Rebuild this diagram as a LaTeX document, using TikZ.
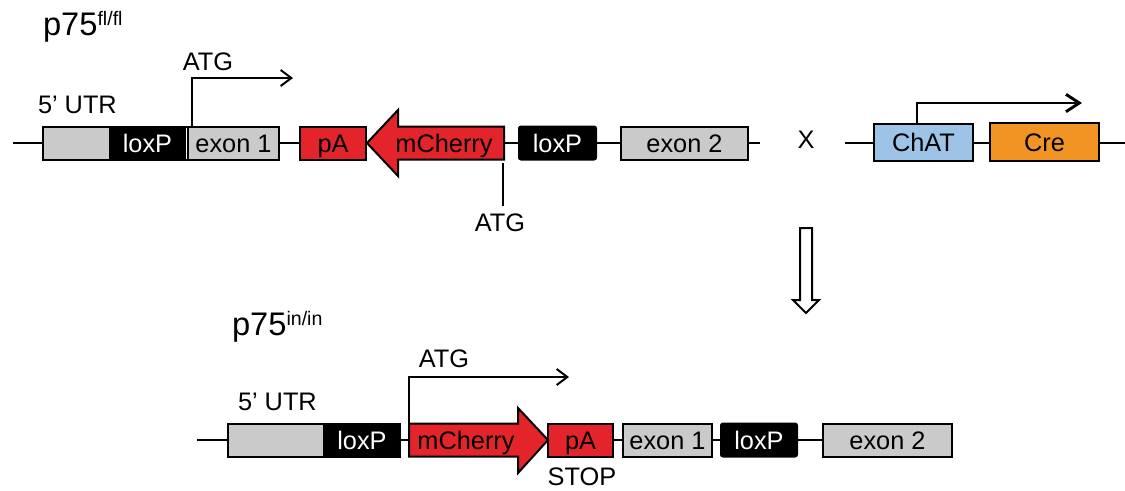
\documentclass[tikz,border=0pt]{standalone}
\usepackage{fontspec}
\setmainfont{Liberation Sans}
\usetikzlibrary{arrows.meta,calc}
\newdimen\px \px=0.75pt
\definecolor{redc}{HTML}{E3242B}
\definecolor{grayc}{HTML}{CACACA}
\definecolor{bluec}{HTML}{9DC3E6}
\definecolor{orangec}{HTML}{F29423}
\begin{document}
\begin{tikzpicture}[x=0.75pt,y=-0.75pt,
  every node/.style={font=\fontsize{19pt}{22pt}\selectfont, inner sep=0pt, outer sep=0pt},
  box/.style={draw=black, line width=1.5pt, minimum height=33\px, anchor=west, text height=13.6pt, text depth=0pt},
  graybox/.style={box, fill=grayc},
  loxin/.style={box, fill=black, text=white},
  loxbox/.style={box, fill=black, text=white, rounded corners=1.5pt},
  redbox/.style={box, fill=redc},
  arrowshape/.style={draw=black, line width=1.5pt, fill=redc, line join=miter},
  bb/.style={line width=1.5pt},
  tss/.style={line width=1.5pt, -{Straight Barb[length=8pt,width=12pt,line width=1.5pt]}},
  tssthick/.style={line width=2.2pt, -{Straight Barb[length=10pt,width=13pt,line width=2.2pt]}},
  lbl/.style={anchor=base},
  lblw/.style={anchor=base west},
  inlbl/.style={text height=13.6pt, text depth=0pt},
]
\useasboundingbox (0,0) rectangle (1125,490);

% ---------- titles ----------
\node[lblw] (title1) at (43,35) {\fontsize{24.5pt}{28pt}\selectfont p75\raisebox{7.5pt}{\fontsize{14.7pt}{16pt}\selectfont f\/l/f\/l}};
\node[lblw] (title2) at (232,335) {\fontsize{24.5pt}{28pt}\selectfont p75\raisebox{7.5pt}{\fontsize{14.7pt}{16pt}\selectfont in/in}};

% ---------- row 1 : p75 fl/fl ----------
\coordinate (start1) at (13,143);
\node[graybox, minimum width=67\px] (utr1) at (43,143) {};
\node[loxin, minimum width=75\px] (lox1a) at (110,143) {loxP};
\node[graybox, minimum width=91\px] (ex1a) at (188,143) {exon 1};
\draw[bb] (lox1a.north east) -- (ex1a.north west);
\draw[bb] (lox1a.south east) -- (ex1a.south west);
\node[redbox, minimum width=66\px] (pa1) at (300,143) {pA};
\coordinate (m1tip) at (367,143);
\coordinate (m1tail) at (504,143);
\draw[arrowshape] (m1tip) -- (398,110) -- (398,126.5) -- (504,126.5) -- (504,159.5) -- (398,159.5) -- (398,176) -- cycle;
\node[inlbl] (mch1) at (444,143) {mCherry};
\node[loxbox, minimum width=77\px] (lox1b) at (519,143) {loxP};
\node[graybox, minimum width=127\px] (ex2a) at (621,143) {exon 2};
\coordinate (end1) at (760,143);

\draw[bb] (start1) -- (utr1.west);
\draw[bb] (ex1a.east) -- (pa1.west);
\draw[bb] (m1tail) -- (lox1b.west);
\draw[bb] (lox1b.east) -- (ex2a.west);
\draw[bb] (ex2a.east) -- (end1);

\node[lblw] (utr1l) at (38,113) {5’ UTR};
\coordinate (atg1s) at ($(ex1a.north west)+(4,0)$);
\coordinate (atg1e) at (293,78);
\draw[tss] (atg1s) |- (atg1e);
\node[lbl] (atg1l) at (208,70) {ATG};

\coordinate (atg2s) at (503,163);
\coordinate (atg2e) at (503,206);
\draw[bb] (atg2s) -- (atg2e);
\node[lbl] (atg2l) at (500,231) {ATG};

% ---------- cross ----------
\node[lbl] (cross) at (806,148) {X};

% ---------- ChAT-Cre ----------
\coordinate (start3) at (845,143);
\node[box, fill=bluec, minimum width=99\px, minimum height=37\px] (chat) at (874,142) {ChAT};
\node[box, fill=orangec, minimum width=109\px, minimum height=38\px] (cre) at (990,142) {Cre};
\coordinate (end3) at (1125,143);
\draw[bb] (start3) -- (chat.west |- start3);
\draw[bb] (chat.east |- start3) -- (cre.west |- start3);
\draw[bb] (cre.east |- start3) -- (end3);
\coordinate (chats) at ($(chat.north west)+(43,0)$);
\coordinate (chate) at (1082,103);
\draw[tssthick] (chats) |- (chate);

% ---------- hollow arrow ----------
\draw[line width=1.5pt, fill=white, line join=miter] (800,228) -- (812,228) -- (812,300) -- (819,300) -- (806,313) -- (793,300) -- (800,300) -- cycle;

% ---------- row 2 : p75 in/in ----------
\coordinate (start2) at (197,440);
\node[graybox, minimum width=96\px] (utr2) at (228,440) {};
\node[loxin, minimum width=76\px] (lox2a) at (324,440) {loxP};
\coordinate (m2tail) at (409,440);
\coordinate (m2tip) at (548,440);
\draw[arrowshape] (409,423.5) -- (518,423.5) -- (518,408) -- (m2tip) -- (518,473) -- (518,456.5) -- (409,456.5) -- cycle;
\node[inlbl] (mch2) at (466,440) {mCherry};
\node[redbox, minimum width=65\px] (pa2) at (548,440) {pA};
\node[graybox, minimum width=89\px] (ex1b) at (623,440) {exon 1};
\node[loxbox, minimum width=76\px] (lox2b) at (721,440) {loxP};
\node[graybox, minimum width=129\px] (ex2b) at (823,440) {exon 2};

\draw[bb] (start2) -- (utr2.west);
\draw[bb] (lox2a.east) -- (m2tail);
\draw[bb] (pa2.east) -- (ex1b.west);
\draw[bb] (ex1b.east) -- (lox2b.west);
\draw[bb] (lox2b.east) -- (ex2b.west);

\node[lblw] (utr2l) at (238,410) {5’ UTR};
\coordinate (atg3s) at (409,423.5);
\coordinate (atg3e) at (569,377);
\draw[tss] (atg3s) |- (atg3e);
\node[lbl] (atg3l) at (444,367) {ATG};
\node[lbl] (stop) at (582,485) {STOP};
\end{tikzpicture}
\end{document}
